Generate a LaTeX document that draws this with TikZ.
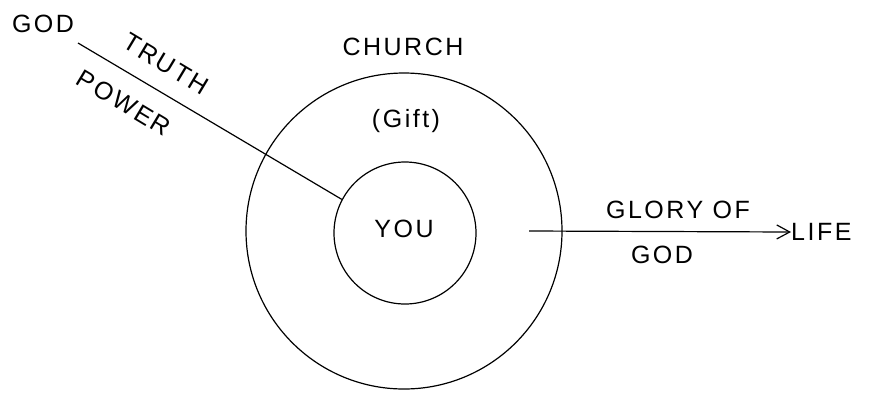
\documentclass[tikz,border=0pt]{standalone}
\usepackage{fontspec}
\newfontfamily\hand[LetterSpace=10]{Liberation Sans}
\usetikzlibrary{arrows.meta,positioning}

\begin{document}
\begin{tikzpicture}[x=1pt,y=-1pt,>={Straight Barb[length=13pt,width=14pt]},
  font=\hand\fontsize{25}{28}\selectfont,
  ring/.style={draw,circle,line width=1.2pt,inner sep=0pt},
  lbl/.style={inner sep=0pt}]
\useasboundingbox (0,0) rectangle (870,392);
\node[ring,minimum size=316pt] (church) at (404,231) {};
\node[ring,minimum size=142pt] (you) at (405,233) {};
\node[lbl] (youtxt) at (404,229) {YOU};
\node[lbl] (churchtxt) at (403,47) {CHURCH};
\node[lbl] (gift) at (406,121) {(Gift)};
% line from God
\node[lbl] (god) at (43,24) {GOD};
\coordinate (godend) at (78,43);
\draw[line width=1.2pt] (godend) -- (you.152);
\node[lbl,rotate=-31] (truth) at (166,64) {TRUTH};
\node[lbl,rotate=-31] (power) at (124,103) {POWER};
% arrow to life
\coordinate (arrstart) at (529,231);
\node[lbl,anchor=west] (life) at (791,232) {LIFE};
\draw[->,line width=1.2pt] (arrstart) -- (life.west);
\node[lbl] (glory) at (678,210) {GLORY OF};
\node[lbl] (godb) at (662,255) {GOD};
\end{tikzpicture}
\end{document}
